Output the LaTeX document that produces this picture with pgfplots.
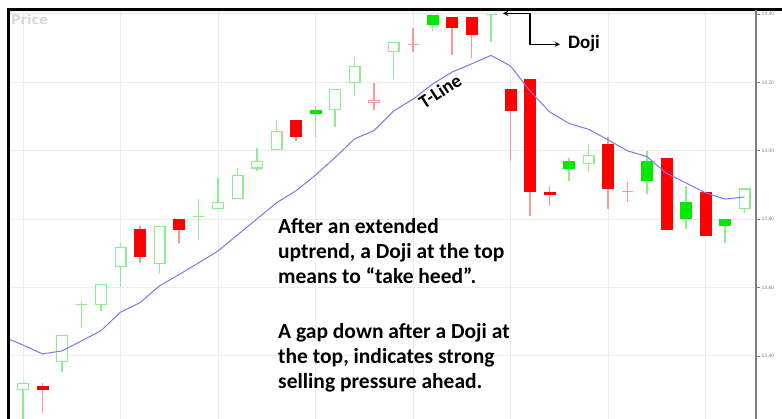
\documentclass[border=0pt]{standalone}
\usepackage{pgfplots}
\usepackage{pgfplotstable}
\pgfplotsset{compat=1.18}
\usepackage{fontspec}
\setmainfont{Carlito}
\newfontfamily\dejavu{DejaVu Sans}
\newfontfamily\libsans{Liberation Sans}
\definecolor{gedge}{RGB}{140,238,140}
\definecolor{gfill}{RGB}{0,235,0}
\definecolor{rfill}{RGB}{255,0,0}
\definecolor{redge}{RGB}{255,150,150}
\definecolor{tline}{RGB}{120,120,240}
\definecolor{gridc}{RGB}{236,236,236}
\definecolor{pricec}{RGB}{215,215,215}

% green hollow candles: x low bodybottom bodytop high
\pgfplotstableread{
x lo bb bt hi
0 13.150 13.300 13.322 13.322
2 13.352 13.382 13.461 13.461
4 13.532 13.549 13.611 13.611
5 13.602 13.660 13.720 13.730
7 13.639 13.669 13.781 13.781
10 13.830 13.830 13.850 13.920
11 13.859 13.859 13.929 13.949
12 13.941 13.948 13.971 14.009
13 14.001 14.001 14.059 14.090
16 14.070 14.119 14.180 14.180
17 14.160 14.197 14.249 14.274
19 14.210 14.288 14.319 14.319
29 13.939 13.961 13.988 14.019
37 13.817 13.830 13.890 13.890
}\GH
% green filled candles
\pgfplotstableread{
x lo bb bt hi
15 14.041 14.108 14.119 14.131
21 14.350 14.368 14.398 14.398
28 13.912 13.948 13.970 13.978
32 13.874 13.911 13.970 14.000
34 13.770 13.800 13.849 13.898
36 13.730 13.780 13.800 13.800
}\GF
% red filled candles
\pgfplotstableread{
x lo bb bt hi
1 13.232 13.300 13.312 13.320
6 13.671 13.689 13.770 13.780
8 13.730 13.768 13.801 13.801
14 14.029 14.040 14.090 14.090
22 14.280 14.358 14.390 14.390
23 14.270 14.339 14.390 14.390
25 13.970 14.117 14.180 14.180
26 13.809 13.879 14.210 14.210
27 13.839 13.871 13.880 13.898
30 13.830 13.889 14.020 14.039
33 13.768 13.768 13.980 13.980
35 13.751 13.751 13.880 13.880
}\RF
% red hollow candles
\pgfplotstableread{
x lo bb bt hi
18 14.119 14.139 14.149 14.197
}\RH
% green doji
\pgfplotstableread{
x lo mid hi
3 13.483 13.551 13.558
9 13.741 13.809 13.858
24 14.319 14.399 14.399
}\GD
% red doji
\pgfplotstableread{
x lo mid hi
20 14.288 14.311 14.358
31 13.849 13.880 13.910
}\RD
% T-Line
\pgfplotstableread{
x y
-1 13.456
0 13.432
1 13.406
2 13.415
3 13.444
4 13.474
5 13.528
6 13.556
7 13.605
8 13.638
9 13.672
10 13.707
11 13.754
12 13.801
13 13.848
14 13.883
15 13.929
16 13.980
17 14.035
18 14.059
19 14.116
20 14.151
21 14.195
22 14.230
23 14.254
24 14.279
25 14.248
26 14.175
27 14.114
28 14.080
29 14.063
30 14.032
31 14.000
32 13.983
33 13.934
34 13.906
35 13.877
36 13.859
37 13.865
}\TL

\pgfplotsset{
  nomark/.style={only marks, mark=*, mark size=0pt, mark options={draw=none, fill=none}, forget plot},
  wick/.style={nomark,
    error bars/.cd, y dir=plus, y explicit, error mark=none,
    error bar style={line width=1.1pt, draw=#1}},
  body/.style={nomark,
    error bars/.cd, y dir=plus, y explicit, error mark=none,
    error bar style={line width=12pt, draw=#1}},
  inner/.style={nomark,
    error bars/.cd, y dir=plus, y explicit, error mark=none,
    error bar style={line width=9.6pt, draw=white}},
}

\begin{document}
\begin{tikzpicture}[x=1pt,y=1pt]
\useasboundingbox (0,0) rectangle (782,419);
\fill[gray!6] (9,404) rectangle (756,409);
\begin{axis}[
  at={(9pt,0pt)}, anchor=south west,
  scale only axis, width=747pt, height=409pt,
  xmin=-0.718, xmax=37.59,
  ymin=13.2158, ymax=14.4117,
  axis line style={draw=none},
  xtick={0,5,10,15,20,25,30,35}, xticklabels={},
  xtick style={draw=none},
  ytick={13.4,13.6,13.8,14.0,14.2,14.4},
  ytick pos=right, yticklabel pos=right,
  tick align=outside, major tick length=4pt,
  ytick style={draw=gray, line width=0.6pt},
  grid=major,
  major grid style={draw=gridc, line width=1pt},
  yticklabel style={font=\libsans\fontsize{5}{6}\selectfont, text=gray, inner sep=1.5pt},
  /pgf/number format/.cd, fixed, fixed zerofill, precision=2, assume math mode=true,
]
% wicks
\addplot[wick=gedge] table[x=x, y=lo, y error plus expr=\thisrow{hi}-\thisrow{lo}, y error minus expr=0]{\GH};
\addplot[wick=gedge] table[x=x, y=lo, y error plus expr=\thisrow{hi}-\thisrow{lo}, y error minus expr=0]{\GF};
\addplot[wick=redge] table[x=x, y=lo, y error plus expr=\thisrow{hi}-\thisrow{lo}, y error minus expr=0]{\RF};
\addplot[wick=redge] table[x=x, y=lo, y error plus expr=\thisrow{hi}-\thisrow{lo}, y error minus expr=0]{\RH};
\addplot[wick=gedge] table[x=x, y=lo, y error plus expr=\thisrow{hi}-\thisrow{lo}, y error minus expr=0]{\GD};
\addplot[wick=redge] table[x=x, y=lo, y error plus expr=\thisrow{hi}-\thisrow{lo}, y error minus expr=0]{\RD};
% bodies
\addplot[body=gedge] table[x=x, y=bb, y error plus expr=\thisrow{bt}-\thisrow{bb}, y error minus expr=0]{\GH};
\addplot[inner] table[x=x, y expr=\thisrow{bb}+0.0036, y error plus expr=\thisrow{bt}-\thisrow{bb}-0.0072, y error minus expr=0]{\GH};
\addplot[body=redge] table[x=x, y=bb, y error plus expr=\thisrow{bt}-\thisrow{bb}, y error minus expr=0]{\RH};
\addplot[inner] table[x=x, y expr=\thisrow{bb}+0.0036, y error plus expr=\thisrow{bt}-\thisrow{bb}-0.0072, y error minus expr=0]{\RH};
\addplot[body=gfill] table[x=x, y=bb, y error plus expr=\thisrow{bt}-\thisrow{bb}, y error minus expr=0]{\GF};
\addplot[body=rfill] table[x=x, y=bb, y error plus expr=\thisrow{bt}-\thisrow{bb}, y error minus expr=0]{\RF};
% doji crosses
\addplot[only marks, mark=-, mark size=5.5pt, mark options={draw=gedge, line width=1.2pt}, forget plot] table[x=x, y=mid]{\GD};
\addplot[only marks, mark=-, mark size=5.5pt, mark options={draw=redge, line width=1.2pt}, forget plot] table[x=x, y=mid]{\RD};
% T-Line
\addplot[color=tline, line width=1pt, mark=none] table[x=x, y=y]{\TL};
\end{axis}
% frame
\draw[line width=2.5pt, black] (7,409.5) -- (782,409.5);
\draw[line width=2.5pt, black] (8.5,409.5) -- (8.5,0);
\draw[line width=1.6pt, gray] (756,409) -- (756,0);
% labels
\node[anchor=base west, inner sep=0, text=pricec, font=\dejavu\bfseries\fontsize{13}{15}\selectfont] at (11,394) {Price};
\draw[line width=1.4pt, <->, >=stealth] (503,405.7) -- (530,405.7) -- (530,374.7) -- (560,374.7);
\node[anchor=base west, inner sep=0, font=\bfseries\fontsize{19}{22}\selectfont] at (568,370) {Doji};
\node[rotate=33, inner sep=0, font=\bfseries\fontsize{19}{22}\selectfont] at (440,328) {T-Line};
\begin{scope}[every node/.style={anchor=base west, inner sep=0, font=\bfseries\fontsize{21.5}{25}\selectfont}]
\node at (278,185.7) {After an extended};
\node at (278,160.7) {uptrend, a Doji at the top};
\node at (278,135.7) {means to “take heed”.};
\node at (278,80.7) {A gap down after a Doji at};
\node at (278,55.7) {the top, indicates strong};
\node at (278,30.7) {selling pressure ahead.};
\end{scope}
\end{tikzpicture}
\end{document}
